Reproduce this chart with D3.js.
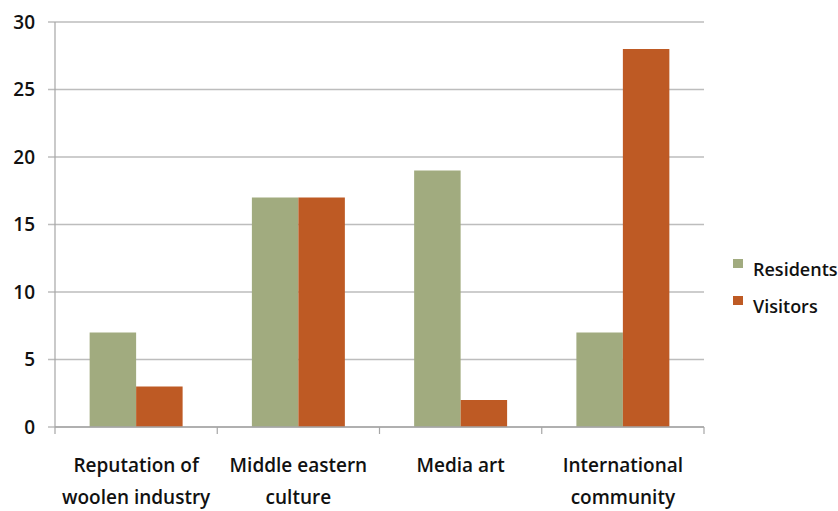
<!DOCTYPE html>
<meta charset="utf-8">
<title>Residents vs Visitors</title>
<style>
  body { margin: 0; background: #fff; }
  text { font-family: "Open Sans", "Noto Sans", sans-serif; font-weight: 600; fill: #111; }
</style>
<body>
<svg id="chart" width="838" height="511"></svg>
<script src="https://d3js.org/d3.v7.min.js"></script>
<script>

var categories = [["Reputation of", "woolen industry"], ["Middle eastern", "culture"], ["Media art"], ["International", "community"]];
var series = ["Residents", "Visitors"];
var residents = [7, 17, 19, 7];
var visitors = [3, 17, 2, 28];
var yTicks = [0, 5, 10, 15, 20, 25, 30];
var colors = ["#A1AB7F", "#BE5A24"];

var svg = d3.select("#chart");
var plotLeft = 55, plotRight = 704, plotTop = 22, plotBottom = 427;

var x = d3.scaleBand()
    .domain(d3.range(categories.length))
    .range([plotLeft, plotRight]);

var xInner = d3.scaleBand()
    .domain(series)
    .range([0, x.bandwidth()])
    .paddingOuter(0.745)
    .paddingInner(0);

var y = d3.scaleLinear()
    .domain([0, 30])
    .range([plotBottom, plotTop]);

// gridlines
svg.append("g")
  .selectAll("line")
  .data(yTicks)
  .enter().append("line")
    .attr("x1", plotLeft - 7)
    .attr("x2", plotRight)
    .attr("y1", function (d) { return y(d); })
    .attr("y2", function (d) { return y(d); })
    .attr("stroke", "#bdbdbd")
    .attr("stroke-width", 1.5);

// y axis line
svg.append("line")
    .attr("x1", plotLeft).attr("x2", plotLeft)
    .attr("y1", plotTop).attr("y2", plotBottom)
    .attr("stroke", "#a6a6a6")
    .attr("stroke-width", 1.2);

// y tick labels
svg.append("g")
  .selectAll("text")
  .data(yTicks)
  .enter().append("text")
    .attr("x", 35)
    .attr("y", function (d) { return y(d); })
    .attr("dy", "0.36em")
    .attr("text-anchor", "end")
    .style("font-size", "19px")
    .text(function (d) { return d; });

// bars
var rows = categories.map(function (c, i) { return [residents[i], visitors[i]]; });

var group = svg.append("g")
  .selectAll("g")
  .data(rows)
  .enter().append("g")
    .attr("transform", function (d, i) { return "translate(" + x(i) + ",0)"; });

group.selectAll("rect")
  .data(function (d) { return d.map(function (v, j) { return { key: series[j], value: v, j: j }; }); })
  .enter().append("rect")
    .attr("x", function (d) { return xInner(d.key); })
    .attr("width", xInner.bandwidth())
    .attr("y", function (d) { return y(d.value); })
    .attr("height", function (d) { return plotBottom - y(d.value); })
    .attr("fill", function (d) { return colors[d.j]; });

// x axis line and tick marks
svg.append("line")
    .attr("x1", plotLeft).attr("x2", plotRight)
    .attr("y1", plotBottom).attr("y2", plotBottom)
    .attr("stroke", "#a6a6a6")
    .attr("stroke-width", 1.5);

svg.append("g")
  .selectAll("line")
  .data(d3.range(categories.length + 1))
  .enter().append("line")
    .attr("x1", function (i) { return plotLeft + i * x.step(); })
    .attr("x2", function (i) { return plotLeft + i * x.step(); })
    .attr("y1", plotBottom)
    .attr("y2", plotBottom + 7)
    .attr("stroke", "#a6a6a6")
    .attr("stroke-width", 1.2);

// category labels
var labels = svg.append("g")
  .selectAll("text")
  .data(categories)
  .enter().append("text")
    .attr("text-anchor", "middle")
    .style("font-size", "19px")
    .attr("transform", function (d, i) { return "translate(" + (x(i) + x.bandwidth() / 2) + ",0)"; });

labels.selectAll("tspan")
  .data(function (d) { return d; })
  .enter().append("tspan")
    .attr("x", 0)
    .attr("y", function (d, k) { return 472 + k * 32; })
    .text(function (d) { return d; });

// legend
var legend = svg.append("g")
  .selectAll("g")
  .data(series)
  .enter().append("g")
    .attr("transform", function (d, i) { return "translate(733," + (259 + i * 37) + ")"; });

legend.append("rect")
    .attr("width", 10)
    .attr("height", 9)
    .attr("fill", function (d, i) { return colors[i]; });

legend.append("text")
    .attr("x", 20)
    .attr("y", 17)
    .style("font-size", "18px")
    .text(function (d) { return d; });

</script>
</body>
